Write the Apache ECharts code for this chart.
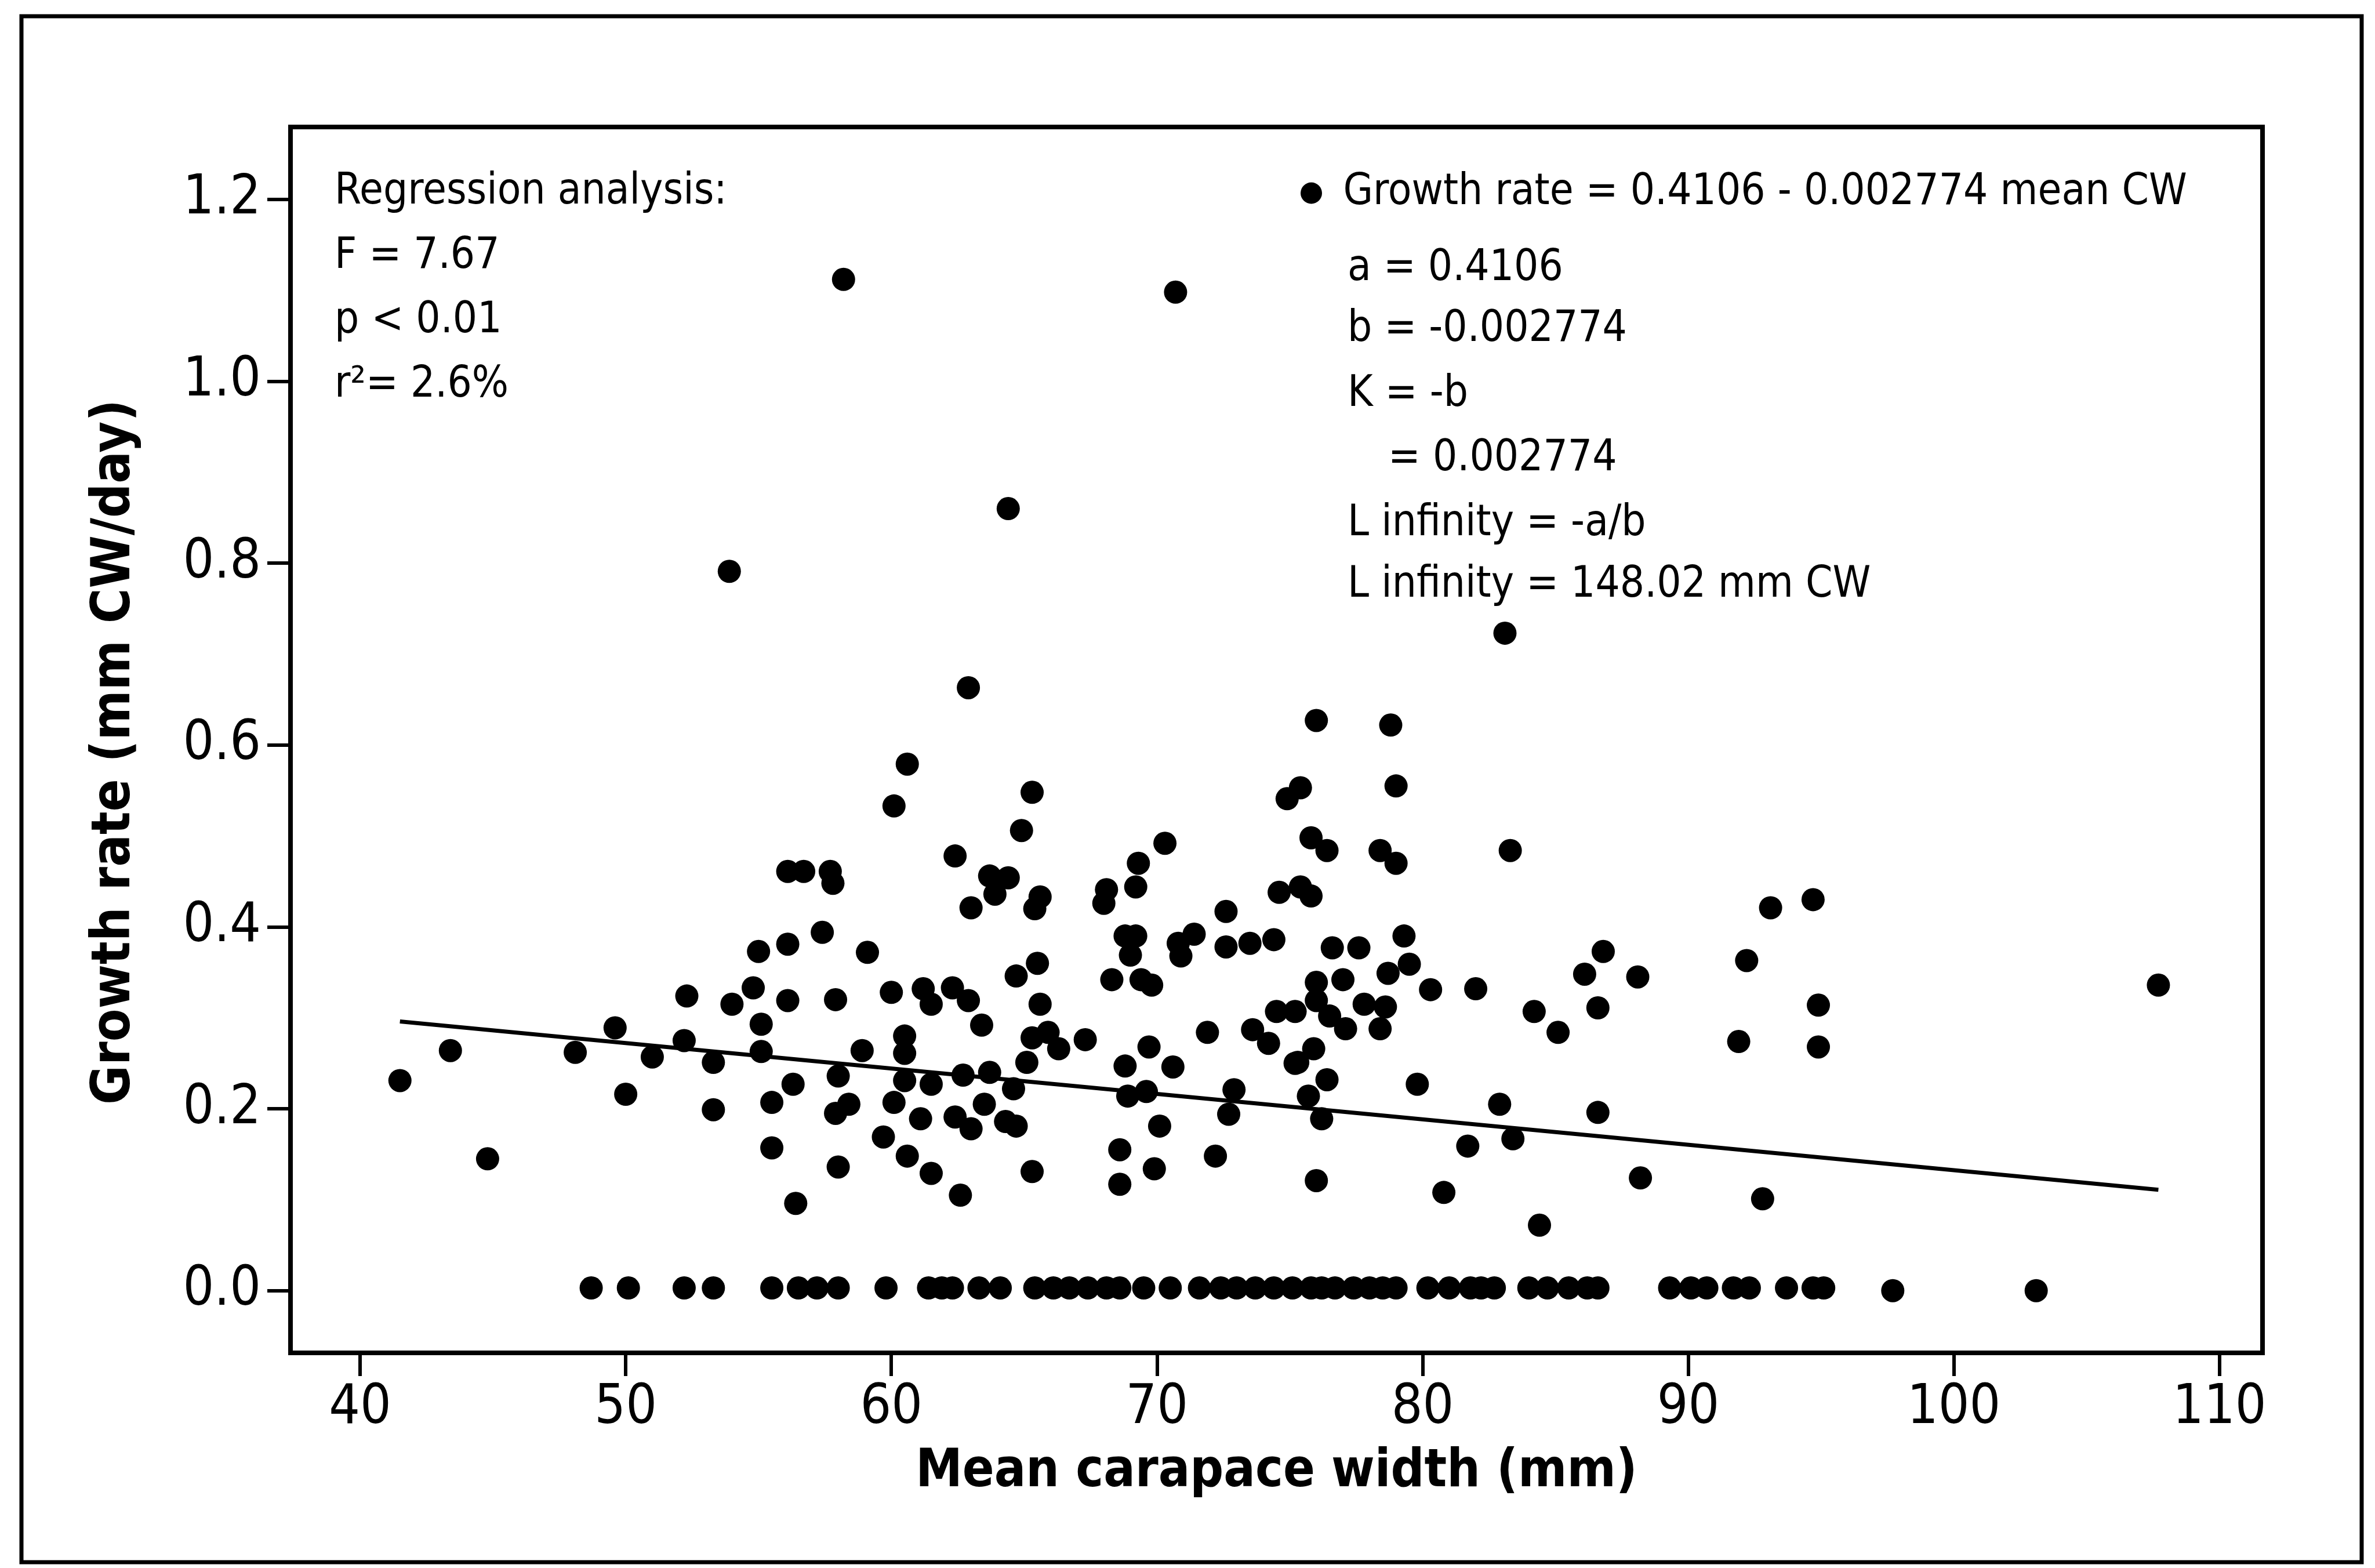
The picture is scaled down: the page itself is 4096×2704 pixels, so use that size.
<!DOCTYPE html>
<html>
<head>
<meta charset="utf-8">
<script src="https://cdn.jsdelivr.net/npm/echarts@6/dist/echarts.min.js"></script>
<style>
html,body{margin:0;padding:0;background:#fff;}
#chart{width:4096px;height:2704px;}
</style>
</head>
<body>
<div id="chart"></div>
<script>
// ---- data ----
const xTicks = [40, 50, 60, 70, 80, 90, 100, 110];
const yTicks = [0, 0.2, 0.4, 0.6, 0.8, 1.0, 1.2];

const cwGrowing = [41.5,43.4,44.8,48.1,49.6,50.0,51.0,52.2,52.3,53.3,53.3,54.0,54.8,55.0,55.1,55.1,55.5,55.5,56.1,56.1,56.7,56.1,56.3,56.4,
57.4,57.7,57.8,57.9,58.0,58.4,57.9,58.0,58.9,59.1,59.7,60.0,60.1,60.6,60.5,60.5,60.5,60.1,60.6,61.1,61.2,61.5,61.5,61.5,62.3,62.9,62.4,62.9,63.0,63.4,62.7,63.7,62.4,63.0,62.6,63.5,64.3,64.7,63.7,64.4,63.9,64.9,65.3,65.6,65.4,64.7,65.5,65.6,65.3,65.9,66.3,65.1,64.6,65.3,
67.3,68.1,68.0,69.2,69.3,70.3,68.8,69.2,69.0,68.3,69.4,69.8,69.7,68.8,68.9,69.6,70.1,68.6,68.6,69.9,70.6,70.8,71.4,70.9,71.9,72.6,72.6,73.5,72.9,72.7,72.2,73.6,74.2,74.5,75.2,75.3,
76.0,78.8,74.9,75.4,79.0,75.8,76.4,78.4,79.0,83.3,74.6,75.4,75.8,93.1,94.7,74.4,76.6,77.6,79.3,86.8,88.1,92.2,86.1,76.0,77.0,76.0,76.5,77.1,79.5,78.7,80.3,82.0,77.8,78.6,78.4,84.2,85.1,86.6,91.9,94.9,94.9,
75.9,75.2,76.4,79.8,75.7,76.2,82.9,86.6,81.7,83.4,76.0,80.8,84.4,88.2,92.8,107.7,
58.2,70.7,53.9,64.4,83.1];
const rateGrowing = [0.231,0.264,0.145,0.262,0.289,0.216,0.257,0.275,0.324,0.251,0.199,0.315,0.333,0.373,0.293,0.263,0.207,0.157,0.381,0.461,0.461,0.319,0.227,0.096,
0.394,0.461,0.448,0.320,0.236,0.205,0.195,0.136,0.264,0.372,0.169,0.328,0.533,0.579,0.280,0.261,0.231,0.207,0.148,0.189,0.332,0.315,0.227,0.129,0.333,0.319,0.478,0.663,0.421,0.292,0.237,0.240,0.191,0.178,0.105,0.205,0.186,0.181,0.456,0.454,0.436,0.506,0.548,0.433,0.420,0.346,0.360,0.315,0.278,0.284,0.266,0.251,0.222,0.131,
0.276,0.441,0.426,0.444,0.470,0.492,0.390,0.390,0.369,0.342,0.342,0.336,0.268,0.247,0.214,0.219,0.181,0.155,0.117,0.134,0.246,0.382,0.392,0.368,0.284,0.417,0.378,0.382,0.221,0.194,0.148,0.287,0.272,0.307,0.307,0.251,
0.627,0.622,0.541,0.553,0.555,0.498,0.484,0.484,0.470,0.484,0.438,0.444,0.434,0.421,0.430,0.386,0.377,0.377,0.390,0.373,0.345,0.363,0.348,0.339,0.342,0.319,0.302,0.288,0.359,0.349,0.331,0.332,0.315,0.312,0.288,0.307,0.284,0.311,0.274,0.314,0.268,
0.266,0.250,0.232,0.227,0.214,0.189,0.205,0.196,0.159,0.167,0.121,0.108,0.072,0.124,0.101,0.336,
1.112,1.098,0.791,0.860,0.723];

const cwZero = [48.7,50.1,52.2,53.3,55.5,56.5,57.2,58.0,59.8,61.4,61.9,62.3,63.3,64.1,65.4,66.1,66.7,67.4,68.1,68.6,69.5,70.5,
71.6,72.4,73.0,73.7,74.4,75.1,75.8,76.2,76.7,77.4,78.0,78.5,79.0,80.2,81.0,81.8,82.2,82.7,84.0,84.7,85.5,86.2,86.6,
89.3,90.1,90.7,91.7,92.3,93.7,94.7,95.1,97.7,103.1];
const rateZero = [0.003,0.003,0.003,0.003,0.003,0.003,0.003,0.003,0.003,0.003,0.003,0.003,0.003,0.003,0.003,0.003,0.003,0.003,0.003,0.003,0.003,0.003,
0.003,0.003,0.003,0.003,0.003,0.003,0.003,0.003,0.003,0.003,0.003,0.003,0.003,0.003,0.003,0.003,0.003,0.003,0.003,0.003,0.003,0.003,0.003,
0.003,0.003,0.003,0.003,0.003,0.003,0.003,0.003,0.0,0.0];

const fitX = [41.5, 107.7];
const fitY = [0.296, 0.111];

const seriesName = 'Growth rate = 0.4106 - 0.002774 mean CW';
const statsLeft = ['Regression analysis:', 'F = 7.67', 'p < 0.01', 'r\u00B2= 2.6%'];
const statsRight = ['a = 0.4106', 'b = -0.002774', 'K = -b', '= 0.002774', 'L infinity = -a/b', 'L infinity = 148.02 mm CW'];

// ---- build ----
const FONT = '"DejaVu Sans Condensed", "DejaVu Sans", sans-serif';
const pts = [];
cwGrowing.forEach((x, i) => pts.push([x, rateGrowing[i]]));
cwZero.forEach((x, i) => pts.push([x, rateZero[i]]));
const fit = fitX.map((x, i) => [x, fitY[i]]);

const leftBaselines = [358, 469, 580, 691];
const rightBaselines = [490, 595, 707, 818, 930, 1036];
const rightX = [2324, 2324, 2324, 2394, 2324, 2324];

const graphics = [
  {type:'rect', shape:{x:37, y:28, width:4036, height:2666}, style:{fill:null, stroke:'#000', lineWidth:7}, silent:true}
];
statsLeft.forEach((t, i) => graphics.push({
  type:'text', x:577, y:leftBaselines[i] - 26,
  style:{text:t, font:'74px ' + FONT, fill:'#000', align:'left', verticalAlign:'middle'}
}));
statsRight.forEach((t, i) => graphics.push({
  type:'text', x:rightX[i], y:rightBaselines[i] - 26,
  style:{text:t, font:'74px ' + FONT, fill:'#000', align:'left', verticalAlign:'middle'}
}));

const axisLineStyle = {show:true, onZero:false, lineStyle:{color:'#000', width:8}};

const chart = echarts.init(document.getElementById('chart'), null, {renderer:'canvas'});
chart.setOption({
  animation:false,
  backgroundColor:'#fff',
  grid:{left:501, top:219, width:3401, height:2114, show:true, borderColor:'#000', borderWidth:8, backgroundColor:'#fff'},
  legend:{
    data:[{name:seriesName, icon:'circle'}],
    left:2243, top:296, padding:0, itemWidth:100, itemHeight:37, selectedMode:false,
    textStyle:{fontSize:74, fontFamily:FONT, color:'#000'}
  },
  xAxis:{
    type:'value', min:37.38, max:111.62,
    axisLine:axisLineStyle,
    axisTick:{show:true, customValues:xTicks, length:40, lineStyle:{color:'#000', width:6}},
    axisLabel:{customValues:xTicks, margin:50, fontSize:94, fontFamily:FONT, color:'#000'},
    splitLine:{show:false},
    name:'Mean carapace width (mm)', nameLocation:'middle', nameGap:162,
    nameTextStyle:{fontSize:90, fontWeight:'bold', fontFamily:FONT, color:'#000'}
  },
  yAxis:{
    type:'value', min:-0.0684, max:1.2796,
    axisLine:axisLineStyle,
    axisTick:{show:true, customValues:yTicks, length:40, lineStyle:{color:'#000', width:6}},
    axisLabel:{customValues:yTicks, margin:51, fontSize:94, fontFamily:FONT, color:'#000', formatter:(v)=>v.toFixed(1)},
    splitLine:{show:false},
    name:'Growth rate (mm CW/day)', nameLocation:'middle', nameRotate:90, nameGap:256,
    nameTextStyle:{fontSize:92, fontWeight:'bold', fontFamily:FONT, color:'#000', padding:[0, 42, 0, 0]}
  },
  series:[
    {name:seriesName, type:'scatter', data:pts, symbol:'circle', symbolSize:40, itemStyle:{color:'#000', opacity:1}, z:3},
    {name:'fit', type:'line', data:fit, symbol:'none', lineStyle:{color:'#000', width:7}, z:2}
  ],
  graphic:graphics
});
</script>
</body>
</html>
